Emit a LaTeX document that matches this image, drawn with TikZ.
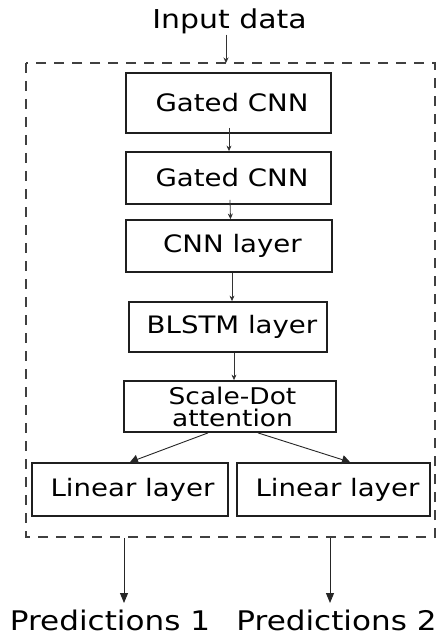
\documentclass[tikz,border=0pt]{standalone}
\usepackage{fontspec}
\setmainfont{DejaVu Sans}[FakeStretch=1.15]
\usetikzlibrary{arrows.meta}

\begin{document}
\begin{tikzpicture}[x=1pt, y=-1pt,
  layerbox/.style={draw=black!88, line width=1.8pt, inner sep=0pt,
    font=\fontsize{24}{20}\selectfont, align=center},
  plain/.style={inner sep=0pt, font=\fontsize{26}{28}\selectfont},
  outtext/.style={inner sep=0pt, font=\fontsize{27}{30}\selectfont},
  thinarrow/.style={draw=black!80, line width=0.8pt,
    -{Stealth[length=5.5pt, width=5pt]}},
  splitarrow/.style={draw=black!85, line width=0.9pt,
    -{Triangle[length=8pt, width=9pt]}},
  outarrow/.style={draw=black!85, line width=1pt,
    -{Triangle[length=10pt, width=8pt]}},
  frame/.style={draw=black!75, line width=1.2pt, dash pattern=on 10pt off 8pt}]

\useasboundingbox (0,0) rectangle (440,639);
\fill[white] (0,0) rectangle (440,639);

% model frame
\draw[frame] (26,63) rectangle (435,537);

% layers
\node[layerbox, minimum width=205pt, minimum height=60pt] (g1) at (228.5,103)
  {\hspace*{7pt}Gated CNN};
\node[layerbox, minimum width=205pt, minimum height=52pt] (g2) at (228.5,178)
  {\hspace*{7pt}Gated CNN};
\node[layerbox, minimum width=206pt, minimum height=52pt] (cnn) at (229,246)
  {\hspace*{7pt}CNN layer};
\node[layerbox, minimum width=198pt, minimum height=50pt] (blstm) at (228,327)
  {\hspace*{8pt}BLSTM layer};
\node[layerbox, minimum width=212pt, minimum height=51pt,
      font=\fontsize{23}{22}\selectfont] (att) at (230,406.5)
  {\hspace*{5pt}Scale-Dot\\\hspace*{5pt}attention};
\node[layerbox, minimum width=196pt, minimum height=53pt] (lin1) at (130,489.5)
  {\hspace*{5pt}Linear layer};
\node[layerbox, minimum width=193pt, minimum height=53pt] (lin2) at (333.5,489.5)
  {\hspace*{8pt}Linear layer};

% input and outputs
\node[plain, anchor=base] (in) at (229.5,29) {Input data};
\node[outtext, anchor=base] (p1) at (110,630) {Predictions 1};
\node[outtext, anchor=base] (p2) at (336.5,630) {Predictions 2};

\coordinate (entry) at (226,63);
\coordinate (exit1) at (124,538);
\coordinate (exit2) at (330,538);
\coordinate (tip1) at (124,603);
\coordinate (tip2) at (330,603);

% connectors
\draw[thinarrow] (in.south -| entry) -- (entry);
\draw[thinarrow] ([xshift=0.5pt, yshift=6pt]g1.south) -- ([xshift=0.5pt]g2.north);
\draw[thinarrow] ([xshift=1.5pt, yshift=5pt]g2.south) -- ([xshift=1.5pt]cnn.north);
\draw[thinarrow] ([xshift=3pt]cnn.south) -- ([xshift=4pt]blstm.north);
\draw[thinarrow] ([xshift=6pt]blstm.south) -- ([xshift=4pt]att.north);
\draw[splitarrow] ([xshift=-22pt]att.south) -- (lin1.north);
\draw[splitarrow] ([xshift=28pt]att.south) -- ([xshift=16.5pt]lin2.north);
\draw[outarrow] (exit1) -- (tip1);
\draw[outarrow] (exit2) -- (tip2);
\end{tikzpicture}
\end{document}
